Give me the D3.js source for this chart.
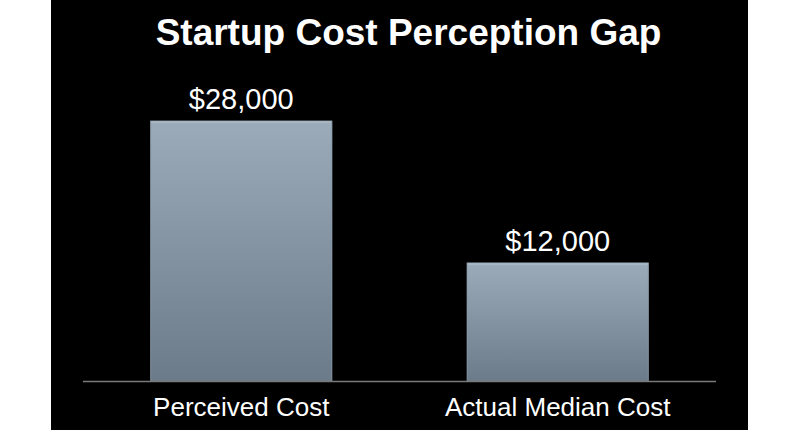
<!DOCTYPE html>
<html>
<head>
<meta charset="utf-8">
<script src="https://cdn.jsdelivr.net/npm/d3@7"></script>
<style>
html,body{margin:0;padding:0;background:#fff;}
svg{display:block;}
</style>
</head>
<body>
<svg id="chart" width="800" height="447"></svg>
<script>
const categories = ["Perceived Cost", "Actual Median Cost"];
const values = [28000, 12000];
const valueLabels = ["$28,000", "$12,000"];
const titleText = "Startup Cost Perception Gap";

const svg = d3.select("#chart");
const font = "'Liberation Sans', Helvetica, Arial, sans-serif";

// black panel
svg.append("rect").attr("x", 51).attr("y", 0).attr("width", 697).attr("height", 430).attr("fill", "#000");

const defs = svg.append("defs");
const grad = defs.append("linearGradient").attr("id", "barGrad")
  .attr("x1", 0).attr("y1", 0).attr("x2", 0).attr("y2", 1);
grad.append("stop").attr("offset", "0%").attr("stop-color", "#9babba");
grad.append("stop").attr("offset", "100%").attr("stop-color", "#6c7b8a");

const baseline = 381.5;
const x = d3.scaleBand().domain(categories).range([83, 716]).paddingInner(0.425).paddingOuter(0.2125);
const y = d3.scaleLinear().domain([-1400, 28000]).range([baseline, 120.7]);

const data = categories.map((c, i) => ({c, v: values[i], label: valueLabels[i]}));

svg.selectAll("rect.bar").data(data).enter().append("rect")
  .attr("class", "bar")
  .attr("x", d => x(d.c))
  .attr("y", d => y(d.v))
  .attr("width", x.bandwidth())
  .attr("height", d => baseline - y(d.v))
  .attr("fill", "url(#barGrad)");

// top highlight
svg.selectAll("line.hl").data(data).enter().append("line")
  .attr("class", "hl")
  .attr("x1", d => x(d.c) + 1).attr("x2", d => x(d.c) + x.bandwidth() - 1)
  .attr("y1", d => y(d.v) + 1).attr("y2", d => y(d.v) + 1)
  .attr("stroke", "#b9c5cf").attr("stroke-width", 1.5);

// side edges
svg.selectAll("rect.edge").data(data).enter().append("rect")
  .attr("class", "edge")
  .attr("x", d => x(d.c) + 0.5)
  .attr("y", d => y(d.v) + 0.5)
  .attr("width", x.bandwidth() - 1)
  .attr("height", d => baseline - y(d.v) - 0.5)
  .attr("fill", "none").attr("stroke", "#8a99a7").attr("stroke-width", 1).attr("stroke-opacity", 0.6);

// baseline
svg.append("line").attr("x1", 83).attr("x2", 716).attr("y1", baseline).attr("y2", baseline)
  .attr("stroke", "#7a7a7a").attr("stroke-width", 1.5);

// value labels
svg.selectAll("text.val").data(data).enter().append("text")
  .attr("class", "val")
  .attr("x", d => x(d.c) + x.bandwidth() / 2)
  .attr("y", d => y(d.v) - 12)
  .attr("text-anchor", "middle")
  .attr("fill", "#fff")
  .attr("font-family", font)
  .attr("font-size", 29)
  .text(d => d.label);

// category labels
svg.selectAll("text.cat").data(data).enter().append("text")
  .attr("class", "cat")
  .attr("x", d => x(d.c) + x.bandwidth() / 2)
  .attr("y", 415.5)
  .attr("text-anchor", "middle")
  .attr("fill", "#fff")
  .attr("font-family", font)
  .attr("font-size", 26)
  .text(d => d.c);

// title
svg.append("text")
  .attr("x", 408.5).attr("y", 45)
  .attr("text-anchor", "middle")
  .attr("fill", "#fff")
  .attr("font-family", font)
  .attr("font-weight", "bold")
  .attr("font-size", 37)
  .text(titleText);
</script>
</body>
</html>
